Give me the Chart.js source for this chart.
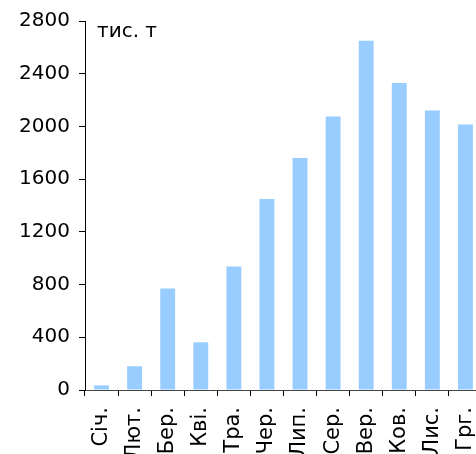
<!DOCTYPE html>
<html>
<head>
<meta charset="utf-8">
<script src="https://cdn.jsdelivr.net/npm/chart.js@4.4.0/dist/chart.umd.min.js"></script>
<style>
  html, body { margin: 0; padding: 0; background: #fff; overflow: hidden; }
  canvas { display: block; }
</style>
</head>
<body>
<canvas id="chart" width="502" height="475"></canvas>
<script>
// місяці
const months = ['Січ.', 'Лют.', 'Бер.', 'Кві.', 'Тра.', 'Чер.', 'Лип.', 'Сер.', 'Вер.', 'Ков.', 'Лис.', 'Грг.'];
// обсяг, тис. т
const volumes = [35, 180, 770, 362, 938, 1450, 1760, 2075, 2650, 2330, 2120, 2015];
const yTicks = [0, 400, 800, 1200, 1600, 2000, 2400, 2800];
const unitLabel = 'тис. т';

const fontFamily = '"DejaVu Sans", Verdana, sans-serif';

// підпис одиниць у куті
const unitPlugin = {
    id: 'unitLabel',
    afterDraw(chart) {
        const c = chart.ctx;
        const area = chart.chartArea;
        c.save();
        c.font = '20px ' + fontFamily;
        c.fillStyle = '#000';
        c.textBaseline = 'top';
        c.fillText(unitLabel, area.left + 12, area.top + 1);
        c.restore();
    }
};

const ctx = document.getElementById('chart').getContext('2d');
new Chart(ctx, {
    type: 'bar',
    data: {
        labels: months,
        datasets: [{
            data: volumes,
            backgroundColor: '#99ccff',
            borderWidth: 0,
            barPercentage: 0.45,
            categoryPercentage: 1
        }]
    },
    options: {
        responsive: false,
        animation: false,
        layout: { padding: { top: 19, right: 9, left: 0, bottom: 0 } },
        plugins: {
            legend: { display: false },
            tooltip: { enabled: false }
        },
        scales: {
            x: {
                grid: { drawOnChartArea: false, tickLength: 6, color: '#000', offset: true },
                border: { color: '#444', width: 1 },
                ticks: {
                    color: '#000',
                    font: { size: 21, family: fontFamily },
                    minRotation: 90,
                    maxRotation: 90,
                    padding: 11,
                    autoSkip: false
                },
                afterFit(scale) { scale.height = 85; }
            },
            y: {
                min: 0,
                max: 2800,
                afterBuildTicks(scale) { scale.ticks = yTicks.map(v => ({ value: v })); },
                grid: { drawOnChartArea: false, tickLength: 6, color: '#000' },
                border: { color: '#000', width: 1 },
                ticks: {
                    color: '#000',
                    font: { size: 20, family: fontFamily },
                    padding: 9,
                    callback: value => String(value)
                },
                afterFit(scale) { scale.width = 85; }
            }
        }
    },
    plugins: [unitPlugin]
});
</script>
</body>
</html>
